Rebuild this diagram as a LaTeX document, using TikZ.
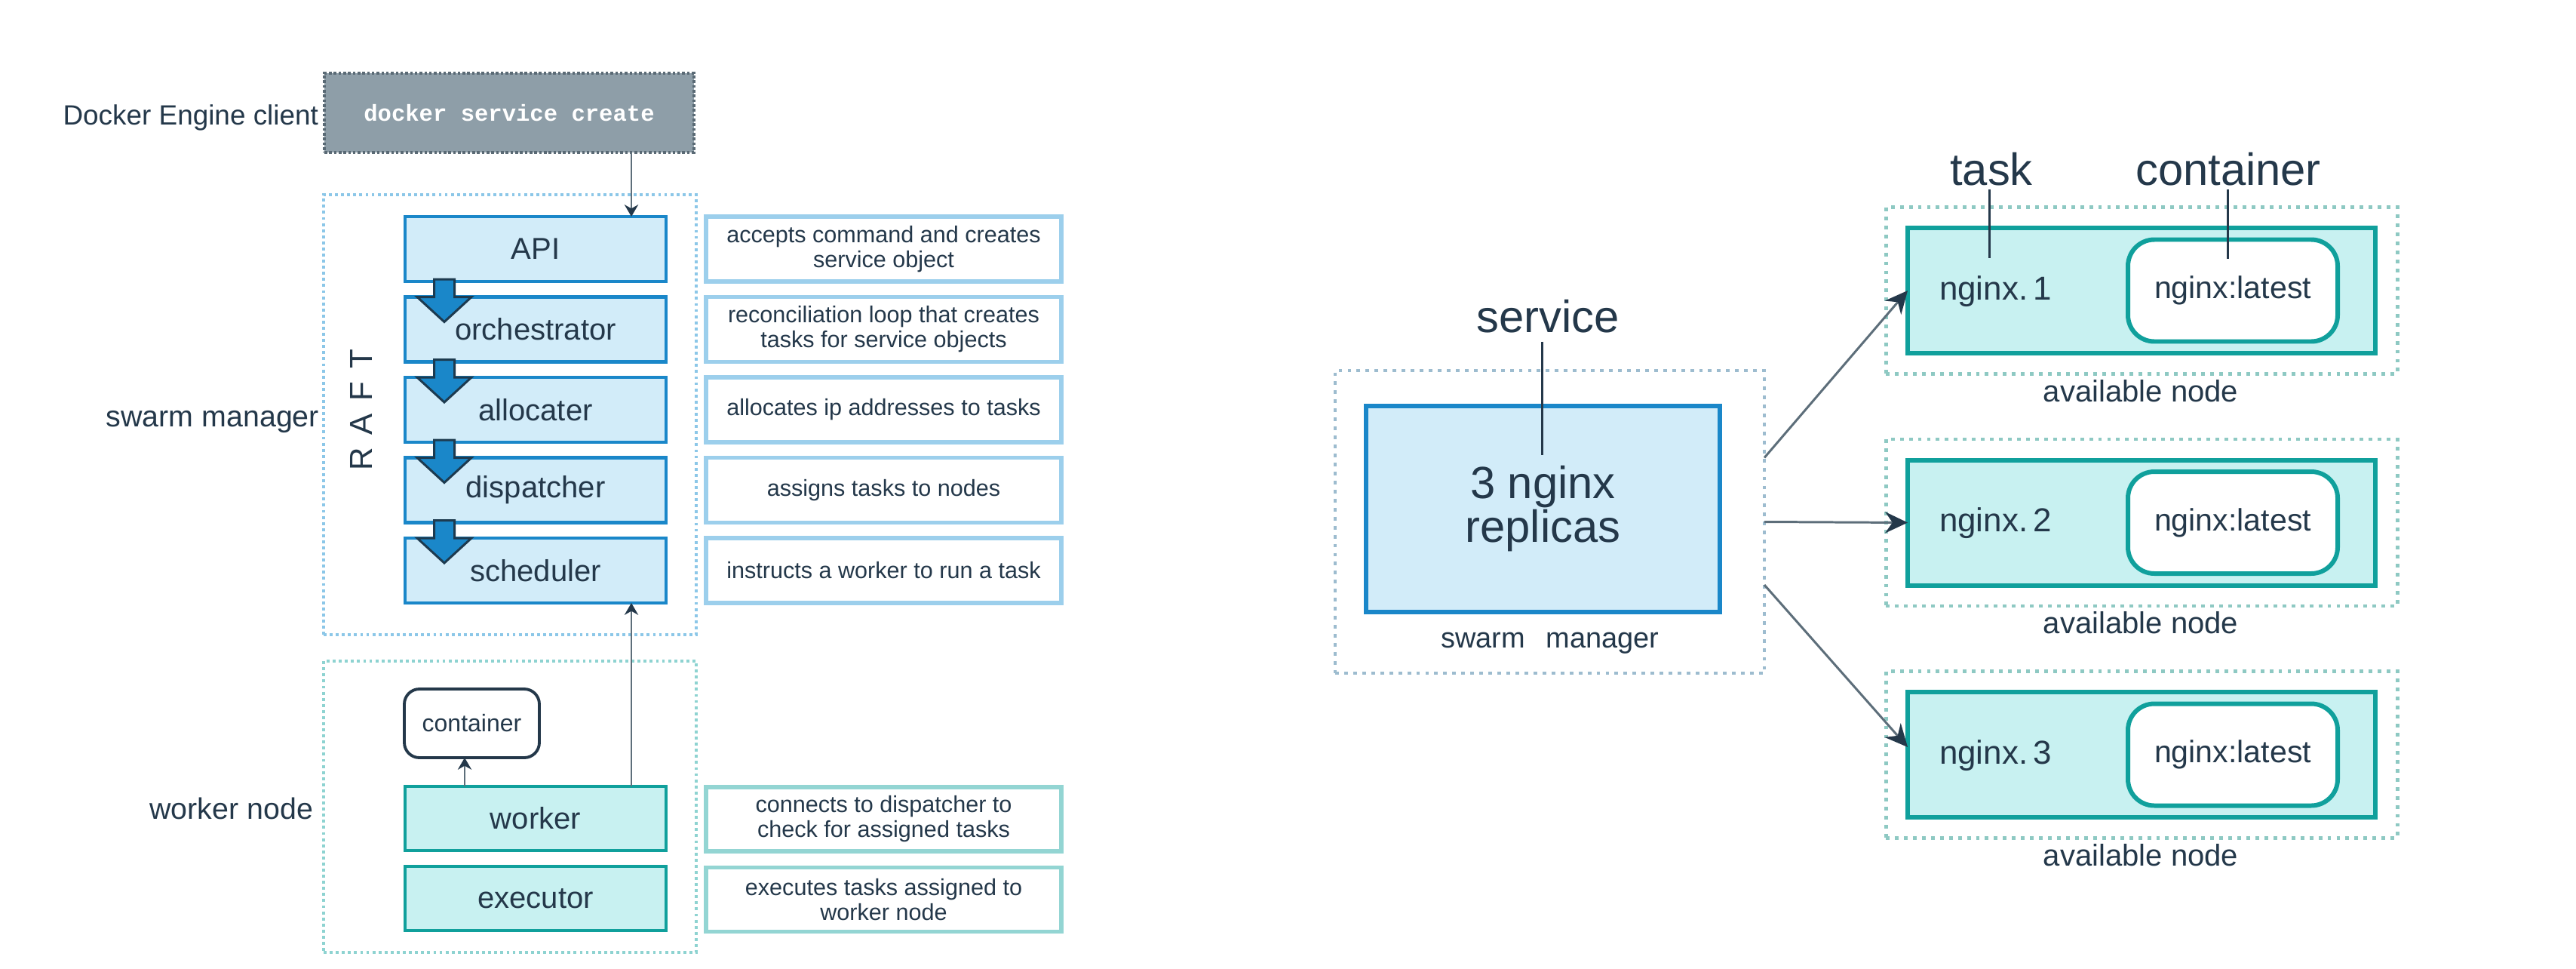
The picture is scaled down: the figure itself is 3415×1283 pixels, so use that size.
\documentclass[tikz,border=0pt]{standalone}
\usepackage{fontspec}
\setmainfont{Liberation Sans}
\setmonofont{Liberation Mono}
\newfontfamily\raftfont[LetterSpace=40]{Liberation Sans}
\usetikzlibrary{arrows.meta,calc}

\definecolor{navy}{HTML}{24384A}
\definecolor{boxblue}{HTML}{1A87C9}
\definecolor{boxfill}{HTML}{D2ECF9}
\definecolor{descblue}{HTML}{9CCFEC}
\definecolor{tealline}{HTML}{10A09C}
\definecolor{tealfill}{HTML}{C8F1F1}
\definecolor{descteal}{HTML}{93D5D3}
\definecolor{dotblue}{HTML}{8CC7E8}
\definecolor{dotteal}{HTML}{8ED3D1}
\definecolor{dotgray}{HTML}{9DBCCF}
\definecolor{dotteal2}{HTML}{8EC9C3}
\definecolor{grayfill}{HTML}{8E9EA8}
\definecolor{grayline}{HTML}{5A6A75}
\definecolor{conn}{HTML}{5D6E7A}
\definecolor{arrborder}{HTML}{1D3A4F}

\newcommand\fsClient{\fontsize{10.5pt}{12pt}\selectfont}
\newcommand\fsSide{\fontsize{11.2pt}{13pt}\selectfont}
\newcommand\fsBox{\fontsize{11.4pt}{13pt}\selectfont}
\newcommand\fsDesc{\fontsize{8.7pt}{9.4pt}\selectfont}
\newcommand\fsCont{\fontsize{9.1pt}{11pt}\selectfont}
\newcommand\fsMono{\fontsize{8.7pt}{10pt}\selectfont}
\newcommand\fsBig{\fontsize{17pt}{16.5pt}\selectfont}
\newcommand\fsNg{\fontsize{12.5pt}{14pt}\selectfont}
\newcommand\fsLatest{\fontsize{11.7pt}{13pt}\selectfont}
\newcommand\fsAvail{\fontsize{11.4pt}{13pt}\selectfont}
\newcommand\fsSwarm{\fontsize{10.8pt}{13pt}\selectfont}
\newcommand\fsRaft{\fontsize{12pt}{14pt}\selectfont}

\begin{document}
\begin{tikzpicture}[x=0.1mm, y=-0.1mm,
  every node/.style={inner sep=0pt, outer sep=0pt, text=navy},
  dotbluebox/.style={draw=dotblue, line width=1pt, dash pattern=on 1.1pt off 1.2pt},
  dottealbox/.style={draw=dotteal, line width=1pt, dash pattern=on 1.1pt off 1.2pt},
  dotgraybox/.style={draw=dotgray, line width=1.4pt, dash pattern=on 1.4pt off 2pt},
  dotavail/.style={draw=dotteal2, line width=1.4pt, dash pattern=on 1.4pt off 2pt},
  graybox/.style={draw=grayline, fill=grayfill, line width=1pt, dash pattern=on 1pt off 0.8pt,
    minimum width=49mm, minimum height=10.5mm, text=white, font=\fsMono\ttfamily\bfseries},
  bluebox/.style={draw=boxblue, fill=boxfill, line width=1.4pt, minimum width=34.6mm,
    minimum height=8.6mm, font=\fsBox},
  tealbox/.style={draw=tealline, fill=tealfill, line width=1.4pt, minimum width=34.6mm,
    minimum height=8.5mm, font=\fsBox},
  descbluebox/.style={draw=descblue, fill=white, line width=1.5pt, minimum width=47.1mm,
    minimum height=8.6mm, align=center, font=\fsDesc},
  desctealbox/.style={draw=descteal, fill=white, line width=1.5pt, minimum width=47.1mm,
    minimum height=8.5mm, align=center, font=\fsDesc},
  lcontbox/.style={draw=navy, fill=white, line width=1.1pt, rounded corners=2mm,
    minimum width=17.9mm, minimum height=9.1mm, font=\fsCont},
  blockarr/.style={fill=boxblue, draw=arrborder, line width=0.85pt, line join=miter},
  thinarr/.style={draw=conn, line width=0.6pt, -{Stealth[length=4.5pt, width=5.2pt, color=navy]}},
  rbluebox/.style={draw=boxblue, fill=boxfill, line width=1.7pt, minimum width=46.9mm,
    minimum height=27.3mm, align=center, font=\fsBig},
  rtealbox/.style={draw=tealline, fill=tealfill, line width=1.7pt, minimum width=62mm,
    minimum height=16.6mm},
  rcontbox/.style={draw=tealline, fill=white, line width=1.7pt, rounded corners=3.5mm,
    minimum width=27.8mm, minimum height=13.5mm, font=\fsLatest},
  bigarr/.style={draw=conn, line width=0.85pt, -{Stealth[length=8.5pt, width=8pt, color=navy]}},
  labelline/.style={draw=navy, line width=0.85pt}
]
\useasboundingbox (0,0) rectangle (3415,1283);

% ---------------- left part ----------------
\node[dotbluebox, minimum width=49.4mm, minimum height=58.3mm] (smbox) at (676,549.5) {};
\node[dottealbox, minimum width=49.4mm, minimum height=38.6mm] (wnbox) at (676,1069) {};

\node[graybox] (client) at (675,149.5) {docker service create};
\node[font=\fsClient, anchor=base east] (clientlbl) at (422,165) {Docker Engine client};
\node[font=\fsSide, anchor=base east] (smlbl) at (423,565) {swarm manager};
\node[font=\fsSide, anchor=base east] (wnlbl) at (415,1085) {worker node};
\node[font=\fsRaft\raftfont, rotate=90] (raft) at (479,543) {RAFT};

\node[bluebox] (api) at (710,330) {API};
\node[bluebox] (orch) at (710,436.5) {orchestrator};
\node[bluebox] (alloc) at (710,543) {allocater};
\node[bluebox] (disp) at (710,649.5) {dispatcher};
\node[bluebox] (sched) at (710,756) {scheduler};

\node[descbluebox] (dapi) at (1171.5,330) {accepts command and creates\\service object};
\node[descbluebox] (dorch) at (1171.5,436.5) {reconciliation loop that creates\\tasks for service objects};
\node[descbluebox] (dalloc) at (1171.5,543) {allocates ip addresses to tasks};
\node[descbluebox] (ddisp) at (1171.5,649.5) {assigns tasks to nodes};
\node[descbluebox] (dsched) at (1171.5,756) {instructs a worker to run a task};

\foreach \a/\b in {api/orch, orch/alloc, alloc/disp, disp/sched}{
  \draw[blockarr] ($(\a.south west)+(38.5,-3)$) -- ($(\a.south west)+(65.5,-3)$)
    -- ($(\b.north west)+(65.5,0)$) -- ($(\b.north west)+(88,0)$)
    -- ($(\b.north west)+(52,33)$) -- ($(\b.north west)+(16,0)$)
    -- ($(\b.north west)+(38.5,0)$) -- cycle;
}

\node[lcontbox] (lcont) at (625.5,958.5) {container};
\node[tealbox] (worker) at (710,1084.5) {worker};
\node[tealbox] (exec) at (710,1190.5) {executor};
\node[desctealbox] (dworker) at (1171.5,1085.5) {connects to dispatcher to\\check for assigned tasks};
\node[desctealbox] (dexec) at (1171.5,1192) {executes tasks assigned to\\worker node};

\coordinate (ax) at (837,0);
\coordinate (cx) at (616,0);
\draw[thinarr] (client.south -| ax) -- (api.north -| ax);
\draw[thinarr] (worker.north -| ax) -- (sched.south -| ax);
\draw[thinarr] (worker.north -| cx) -- (lcont.south -| cx);

% ---------------- right part ----------------
\node[dotgraybox, minimum width=56.9mm, minimum height=40.1mm] (sm) at (2054.5,691.5) {};
\node[rbluebox] (svc) at (2045.5,674.5) {3 nginx\\replicas};
\node[font=\fsSwarm, anchor=base] (smr) at (2055,858) {swarm\hspace{0.45em} manager};
\node[font=\fsBig, anchor=base] (svclbl) at (2052,440) {service};
\coordinate (svcend) at (2044,603);
\draw[labelline] ($(svclbl.south -| svcend)+(0,12)$) -- (svcend);

\foreach \i/\y in {1/385, 2/692.5, 3/1000}{
  \node[dotavail, minimum width=67.8mm, minimum height=22.1mm] (an\i) at (2839,\y) {};
  \node[rtealbox] (t\i) at (2839,\y) {};
  \node[rcontbox] (c\i) at (2960,\y) {nginx:latest};
  \node[font=\fsNg, anchor=base west] (n\i) at (2571,{\y+12}) {nginx.\,\i};
  \node[font=\fsAvail, anchor=base] (al\i) at (2838,{\y+147}) {available node};
}

\node[font=\fsBig, anchor=base] (tasklbl) at (2640,245) {task};
\node[font=\fsBig, anchor=base] (contlbl) at (2954,245) {container};
\coordinate (taskend) at (2637,342);
\coordinate (contend) at (2953,343);
\draw[labelline] ($(tasklbl.south -| taskend)+(0,5)$) -- (taskend);
\draw[labelline] ($(contlbl.south -| contend)+(0,5)$) -- (contend);

\draw[bigarr] ([yshift=8.5mm]sm.east) -- (t1.west);
\draw[bigarr] (sm.east) -- (t2.west);
\draw[bigarr] ([yshift=-8.35mm]sm.east) -- ([yshift=1mm]t3.west);
\end{tikzpicture}
\end{document}
